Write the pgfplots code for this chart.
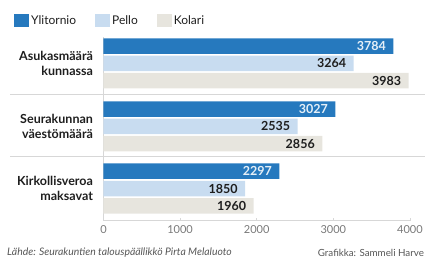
\documentclass[border=0pt]{standalone}
\usepackage{pgfplots}
\pgfplotsset{compat=1.18}
\usepackage{fontspec}
\setmainfont{Lato}
\definecolor{cY}{RGB}{38,121,190}
\definecolor{cP}{RGB}{200,220,240}
\definecolor{cK}{RGB}{231,229,222}
\definecolor{txt}{RGB}{30,30,30}
\definecolor{tick}{RGB}{120,120,120}
\definecolor{sep}{RGB}{215,215,215}
\begin{document}
\begin{tikzpicture}
\begin{axis}[
  scale only axis,
  width=306.4pt, height=183.7pt,
  xmin=0, xmax=4000,
  ymin=37, ymax=220.7,
  y dir=reverse,
  clip=false,
  axis x line*=bottom,
  axis y line*=left,
  axis line style={draw=sep, line width=0.6pt},
  xtick={0,1000,2000,3000,4000},
  x tick style={draw=sep, line width=0.6pt},
  major tick length=3pt,
  tick align=inside,
  /pgf/number format/1000 sep={},
  /pgf/number format/assume math mode=true,
  xticklabel style={font=\fontsize{11}{12}\selectfont, text=tick, yshift=-1pt},
  ytick={63.3,126.3,188.5},
  yticklabels={{Asukasmäärä\\kunnassa},{Seurakunnan\\väestömäärä},{Kirkollisveroa\\maksavat}},
  yticklabel style={align=right, font=\fontsize{12.5}{15}\selectfont\bfseries, text=txt, xshift=-4pt},
  y tick style={draw=none},
  xbar, bar shift=0pt, bar width=15.5,
  nodes near coords,
  every node near coord/.append style={anchor=east, xshift=-4pt, font=\fontsize{12.5}{13}\selectfont\bfseries},
  legend columns=3,
  legend style={draw=none, fill=none, at={(axis description cs:-0.302,1.14)}, anchor=north west,
    font=\fontsize{12}{13}\selectfont, text=txt, /tikz/every even column/.append style={column sep=17pt}},
  legend image code/.code={\fill[#1] (0pt,-6.5pt) rectangle (15pt,6.5pt);},
]
\addplot[draw=none, fill=cY, every node near coord/.append style={text=white!88!cY}] coordinates {(3784,46) (3027,109) (2297,171.2)};
\addplot[draw=none, fill=cP, every node near coord/.append style={text=txt}] coordinates {(3264,63.3) (2535,126.3) (1850,188.5)};
\addplot[draw=none, fill=cK, every node near coord/.append style={text=txt}] coordinates {(3983,80.6) (2856,143.6) (1960,205.8)};
\legend{Ylitornio, Pello, Kolari}
\draw[sep, line width=0.6pt] (axis cs:-1215,94.5) -- (axis cs:4200,94.5);
\draw[sep, line width=0.6pt] (axis cs:-1215,156.5) -- (axis cs:4200,156.5);
\node[anchor=west, font=\fontsize{10.4}{12}\selectfont\itshape, text=txt!75, inner sep=0pt] at (axis cs:-1260,253) {Lähde: Seurakuntien talouspäällikkö Pirta Melaluoto};
\node[anchor=east, font=\fontsize{9.8}{12}\selectfont, text=txt!75, inner sep=0pt] at (axis cs:4186,253) {Grafikka: Sammeli Harve};
\path (axis cs:-1351,0) rectangle (axis cs:4236,263);
\end{axis}
\end{tikzpicture}
\end{document}
